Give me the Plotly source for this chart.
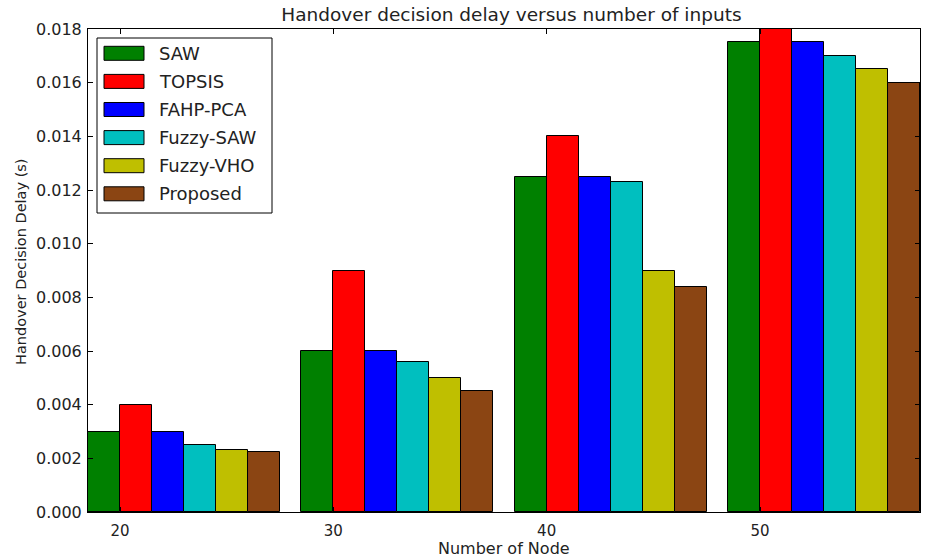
import plotly.graph_objects as go

nodes = [20, 30, 40, 50]
methods = ["SAW", "TOPSIS", "FAHP-PCA", "Fuzzy-SAW", "Fuzzy-VHO", "Proposed"]
saw = [0.0030, 0.0060, 0.0125, 0.0175]
topsis = [0.0040, 0.0090, 0.0140, 0.0180]
fahp_pca = [0.0030, 0.0060, 0.0125, 0.0175]
fuzzy_saw = [0.0025, 0.0056, 0.0123, 0.0170]
fuzzy_vho = [0.0023, 0.0050, 0.0090, 0.0165]
proposed = [0.00225, 0.0045, 0.0084, 0.0160]
series = [saw, topsis, fahp_pca, fuzzy_saw, fuzzy_vho, proposed]
colors = ["#008000", "#ff0000", "#0000ff", "#00bfbf", "#bfbf00", "#8b4513"]
y_ticks = [0.000, 0.002, 0.004, 0.006, 0.008, 0.010, 0.012, 0.014, 0.016, 0.018]

W, H = 933, 560
ML, MR, MT, MB = 88, 13, 29, 48
PW, PH = W - ML - MR, H - MT - MB
FONT = "DejaVu Sans"

def px_x(px):
    return (px - ML) / PW

def px_y(py):
    return (H - MB - py) / PH

bar_w = 0.15
ind = list(range(len(nodes)))

fig = go.Figure()
for i, (name, vals, col) in enumerate(zip(methods, series, colors)):
    fig.add_trace(go.Bar(
        x=ind, y=vals, name=name, offset=i * bar_w, width=bar_w,
        marker=dict(color=col, line=dict(color="black", width=1)),
        showlegend=False,
    ))

# legend drawn as in the reference (wide patches)
shapes = []
annotations = []
shapes.append(dict(type="rect", xref="paper", yref="paper",
                   x0=px_x(97), x1=px_x(272), y0=px_y(213), y1=px_y(38),
                   line=dict(color="black", width=1), fillcolor="white", layer="above"))
for i, (name, col) in enumerate(zip(methods, colors)):
    cy = 53.3 + i * 28.1
    shapes.append(dict(type="rect", xref="paper", yref="paper",
                       x0=px_x(104), x1=px_x(144), y0=px_y(cy + 7), y1=px_y(cy - 7),
                       line=dict(color="black", width=1), fillcolor=col, layer="above"))
    annotations.append(dict(xref="paper", yref="paper", x=px_x(157), y=px_y(cy),
                            text=name, showarrow=False, xanchor="left", yanchor="middle",
                            font=dict(family=FONT, size=18, color="#222")))

# axis titles
annotations.append(dict(xref="paper", yref="paper", x=0.5, y=px_y(548), text="Number of Node",
                        showarrow=False, xanchor="center", yanchor="middle",
                        font=dict(family=FONT, size=16, color="#222")))
annotations.append(dict(xref="paper", yref="paper", x=px_x(21), y=px_y(262),
                        text="Handover Decision Delay (s)", textangle=-90,
                        showarrow=False, xanchor="center", yanchor="middle",
                        font=dict(family=FONT, size=14.5, color="#222")))

fig.update_layout(
    width=W, height=H,
    margin=dict(l=ML, r=MR, t=MT, b=MB),
    paper_bgcolor="white", plot_bgcolor="white",
    title=dict(text="Handover decision delay versus number of inputs",
               x=(ML + PW / 2) / W + 0.008, xanchor="center", y=1 - 15 / H, yanchor="middle",
               font=dict(family=FONT, size=18.5, color="#222")),
    shapes=shapes, annotations=annotations,
    showlegend=False,
    bargap=0,
)
fig.update_xaxes(
    range=[0, 3.9], tickvals=[k + bar_w for k in ind], ticktext=[str(n) for n in nodes],
    ticks="inside", ticklen=5, tickcolor="black", showline=True, linecolor="black",
    linewidth=1, mirror="ticks", showgrid=False, zeroline=False, automargin=False,
    ticklabelstandoff=5,
    tickfont=dict(family=FONT, size=15, color="#222"),
)
fig.update_yaxes(
    range=[0, 0.018], tickvals=y_ticks, tickformat=".3f",
    ticks="inside", ticklen=5, tickcolor="black", showline=True, linecolor="black",
    linewidth=1, mirror="ticks", showgrid=False, zeroline=False, automargin=False,
    ticklabelstandoff=2,
    tickfont=dict(family=FONT, size=16, color="#222"),
)

fig.write_html("out.html")
